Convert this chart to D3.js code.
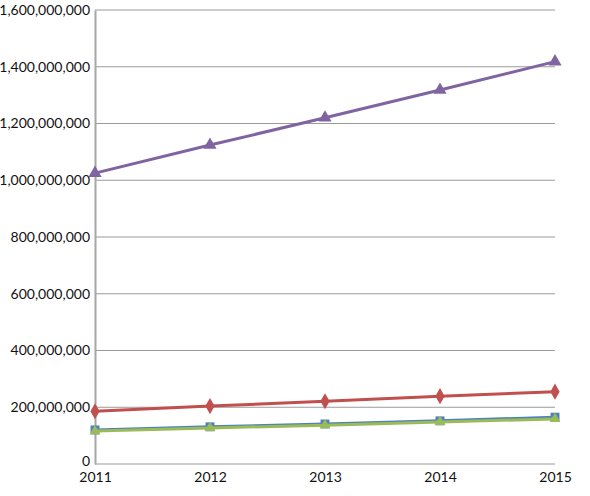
<!DOCTYPE html>
<html>
<head>
<meta charset="utf-8">
<script src="https://cdn.jsdelivr.net/npm/d3@7"></script>
<style>
  body { margin: 0; background: #fff; }
  text { font-family: Lato, "Liberation Sans", sans-serif; fill: #111; }
</style>
</head>
<body>
<div id="chart"></div>
<script>
var years = [2011, 2012, 2013, 2014, 2015];
var yTicks = [0, 200e6, 400e6, 600e6, 800e6, 1000e6, 1200e6, 1400e6, 1600e6];

// series values
var blueVals   = [120e6, 131e6, 141e6, 152e6, 165e6];
var redVals    = [186e6, 204e6, 221e6, 239e6, 255e6];
var greenVals  = [116e6, 127e6, 137e6, 148e6, 159e6];
var purpleVals = [1025e6, 1124e6, 1220e6, 1318e6, 1418e6];

var series = [
  {vals: blueVals, color: "#4F81BD", marker: d3.symbolSquare, size: 80},
  {vals: redVals, color: "#C0504D", marker: d3.symbolDiamond, size: 75},
  {vals: greenVals, color: "#9BBB59", marker: d3.symbolTriangle, size: 50},
  {vals: purpleVals, color: "#8064A2", marker: d3.symbolTriangle, size: 75}
];

var width = 590, height = 496;
// plot area edges (don't call it "top", that's window.top)
var plotLeft = 95, plotRight = 555, plotTop = 10, plotBottom = 464;

var svg = d3.select("#chart").append("svg")
  .attr("width", width)
  .attr("height", height);

var x = d3.scalePoint().domain(years).range([plotLeft, plotRight]);
var y = d3.scaleLinear().domain([0, 1600e6]).range([plotBottom, plotTop]);

// gridlines
svg.append("g").selectAll("line")
  .data(yTicks)
  .enter()
  .append("line")
  .attr("x1", plotLeft)
  .attr("x2", plotRight)
  .attr("y1", function(d) { return y(d); })
  .attr("y2", function(d) { return y(d); })
  .attr("stroke", "#9a9a9a")
  .attr("stroke-width", 1);

// y axis
var yAxis = d3.axisLeft(y).tickValues(yTicks).tickSize(0).tickPadding(5)
  .tickFormat(d3.format(","));
var gy = svg.append("g").attr("transform", "translate(" + plotLeft + ",0)").call(yAxis);
gy.select(".domain").attr("stroke", "#a6a6a6").attr("stroke-width", 2);
gy.selectAll("text").style("font-size", "14px").attr("fill", "#111");
// lift the "0" a bit so it clears the 2011 label
gy.selectAll("text").filter(function(d) { return d === 0; }).attr("dy", "0.1em");

// x axis
var xAxis = d3.axisBottom(x).tickSize(0).tickPadding(8).tickFormat(d3.format("d"));
var gx = svg.append("g").attr("transform", "translate(0," + plotBottom + ")").call(xAxis);
gx.select(".domain").remove();
gx.selectAll("text").style("font-size", "14px").attr("fill", "#111");

var line = d3.line()
  .x(function(d, i) { return x(years[i]); })
  .y(function(d) { return y(d); });

series.forEach(function(s) {
  svg.append("path")
    .datum(s.vals)
    .attr("d", line)
    .attr("fill", "none")
    .attr("stroke", s.color)
    .attr("stroke-width", 3);

  svg.append("g").selectAll("path")
    .data(s.vals)
    .enter()
    .append("path")
    .attr("d", d3.symbol().type(s.marker).size(s.size))
    .attr("transform", function(d, i) {
      return "translate(" + x(years[i]) + "," + y(d) + ")";
    })
    .attr("fill", s.color);
});
</script>
</body>
</html>
